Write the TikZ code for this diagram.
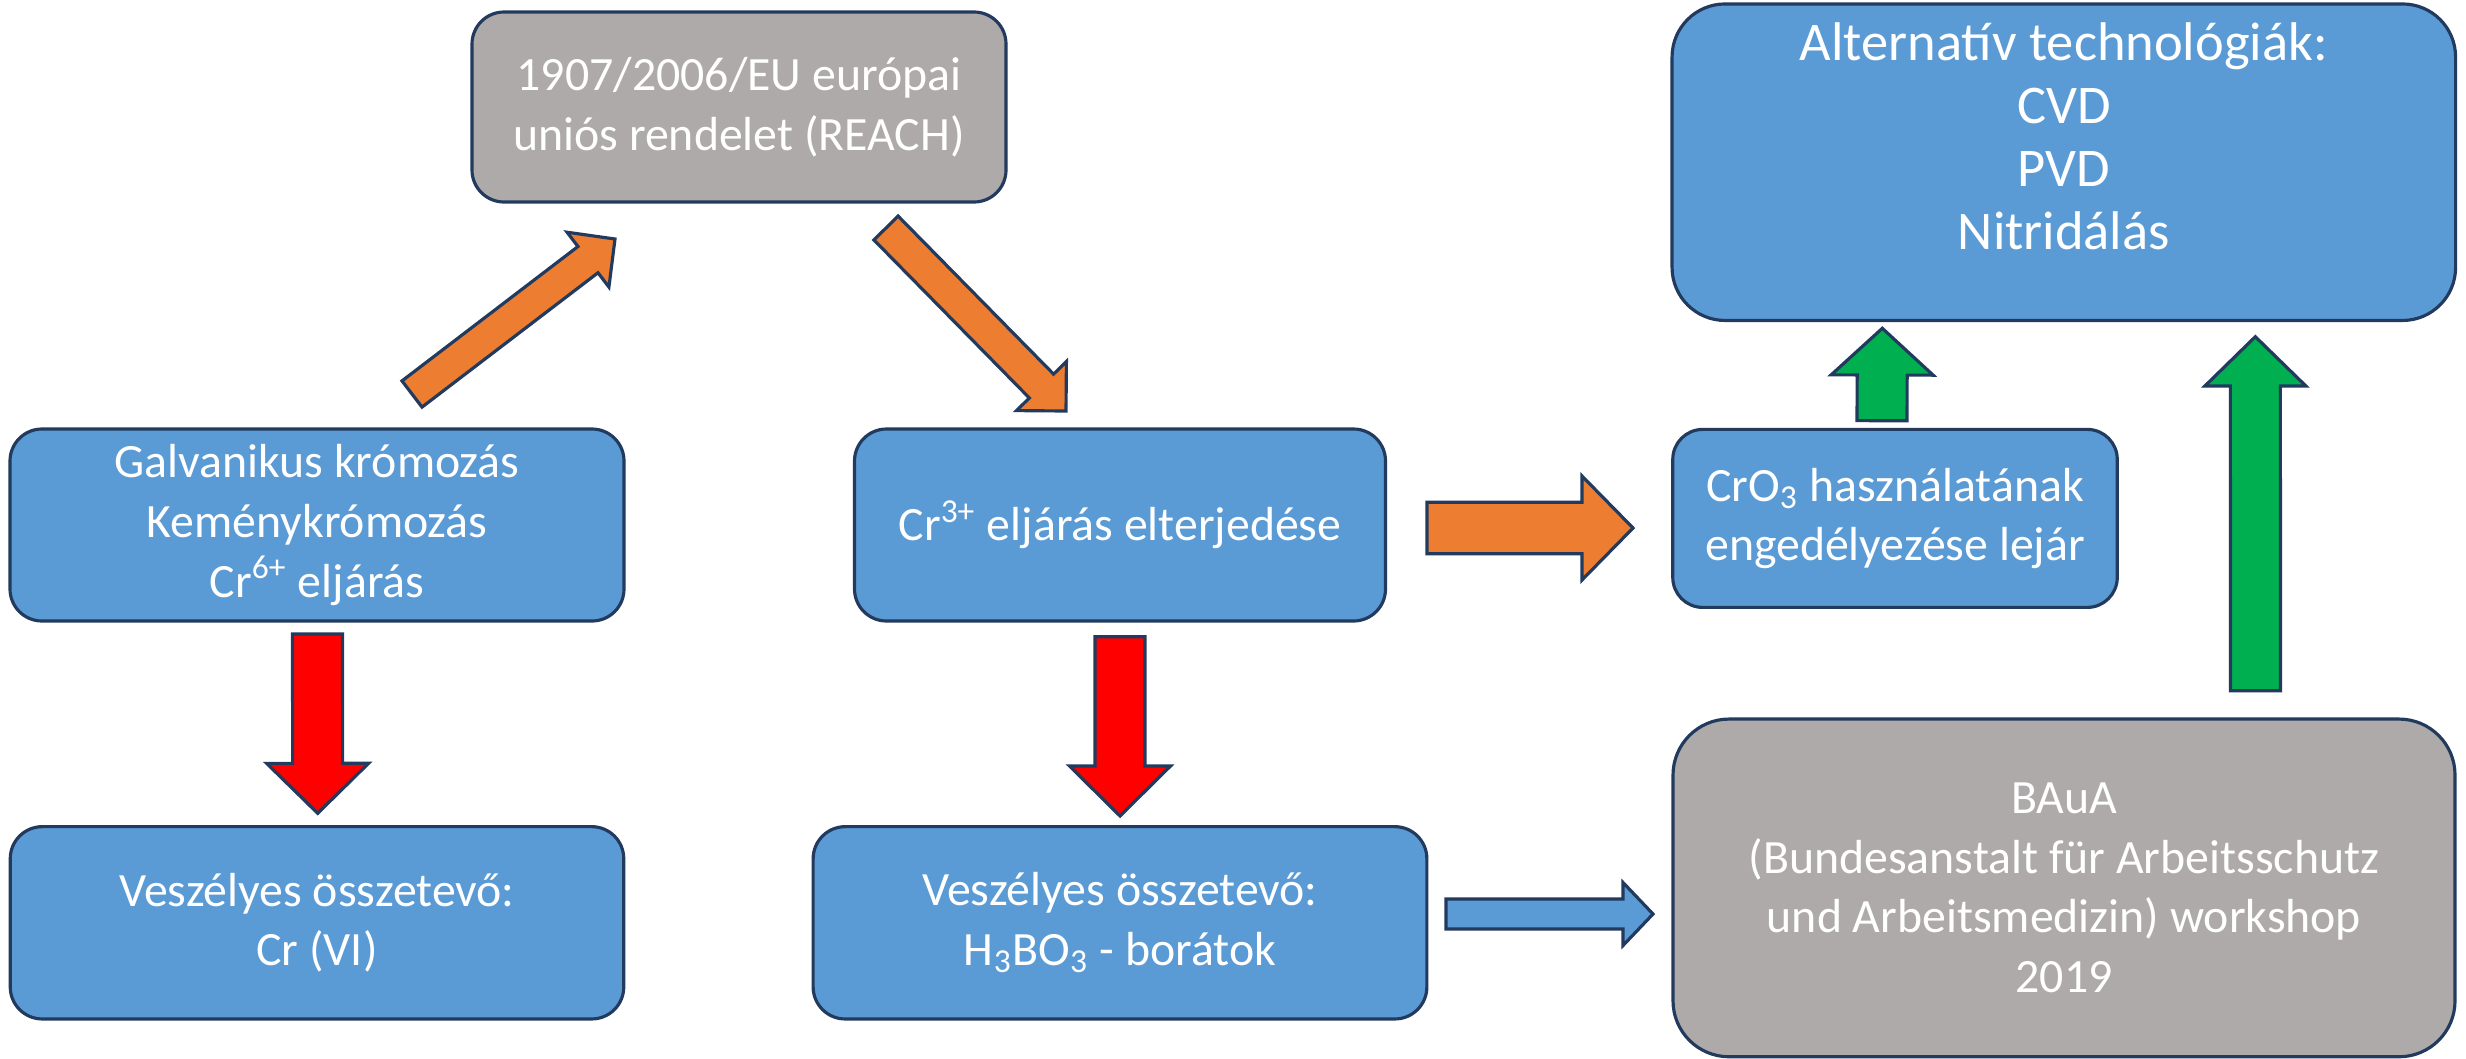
\documentclass[tikz,border=0pt]{standalone}
\usepackage{fontspec}
\setmainfont{Carlito}
\usetikzlibrary{calc}
\definecolor{boxblue}{HTML}{5B9BD5}
\definecolor{boxgrey}{HTML}{AEAAAA}
\definecolor{edgec}{HTML}{223A5E}
\definecolor{orng}{HTML}{ED7D31}
\definecolor{rdc}{HTML}{FF0000}
\definecolor{grn}{HTML}{00B050}
% #1 id, #2 tail, #3 tip, #4 shaft half, #5 head half, #6 head length, #7 colour
\newcommand\blockarrow[7]{%
  \coordinate (#1h) at ($(#3)!#6!(#2)$);
  \draw[arr,fill=#7] ($(#2)!#4!90:(#3)$) -- ($(#1h)!#4!-90:(#2)$) -- ($(#1h)!#5!-90:(#2)$)
    -- (#3) -- ($(#1h)!#5!90:(#2)$) -- ($(#1h)!#4!90:(#2)$) -- ($(#2)!#4!-90:(#3)$) -- cycle;
}
\begin{document}
\begin{tikzpicture}[
  box/.style={draw=edgec, line width=0.9pt, text=white, align=center, inner sep=0pt,
    font=\fontsize{13.6}{17.0}\selectfont},
  arr/.style={draw=edgec, line width=0.9pt, line join=miter}
]
\useasboundingbox (0,0) rectangle (24.66,10.58);

% boxes
\node[box, fill=boxblue, minimum width=6.14cm, minimum height=1.92cm, rounded corners=0.32cm] (galv) at (3.17,5.33)
  {Galvanikus krómozás\\Keménykrómozás\\Cr\textsuperscript{6+} eljárás};
\node[box, fill=boxgrey, minimum width=5.34cm, minimum height=1.90cm, rounded corners=0.32cm] (reach) at (7.39,9.51)
  {1907/2006/EU európai\\uniós rendelet (REACH)};
\node[box, fill=boxblue, minimum width=5.31cm, minimum height=1.92cm, rounded corners=0.32cm] (cr3) at (11.20,5.33)
  {Cr\textsuperscript{3+} eljárás elterjedése};
\node[box, fill=boxblue, minimum width=4.445cm, minimum height=1.78cm, rounded corners=0.30cm] (cro3) at (18.95,5.396)
  {CrO\textsubscript{3} használatának\\engedélyezése lejár};
\node[box, fill=boxblue, minimum width=7.835cm, minimum height=3.165cm, rounded corners=0.53cm,
  font=\fontsize{15.5}{17.9}\selectfont] (alt) at (20.638,8.958)
  {\raisebox{0.07cm}[0pt][0pt]{\begin{tabular}{@{}c@{}}Alternatív technológiák:\\CVD\\PVD\\Nitridálás\end{tabular}}};
\node[box, fill=boxblue, minimum width=6.135cm, minimum height=1.923cm, rounded corners=0.32cm] (crvi) at (3.17,1.352)
  {Veszélyes összetevő:\\Cr (VI)};
\node[box, fill=boxblue, minimum width=6.137cm, minimum height=1.923cm, rounded corners=0.32cm] (h3bo3) at (11.20,1.352)
  {Veszélyes összetevő:\\H\textsubscript{3}BO\textsubscript{3} - borátok};
\node[box, fill=boxgrey, minimum width=7.82cm, minimum height=3.377cm, rounded corners=0.56cm] (baua) at (20.64,1.701)
  {BAuA\\(Bundesanstalt für Arbeitsschutz\\und Arbeitsmedizin) workshop\\2019};

% arrow end points
\coordinate (a1s) at (4.12,6.64);   \coordinate (a1e) at (6.15,8.19);
\coordinate (a2s) at (8.86,8.30);   \coordinate (a2e) at (10.66,6.47);
\coordinate (a3s) at (14.27,5.30);  \coordinate (a3e) at (16.33,5.30);
\coordinate (r1s) at (3.175,4.24);  \coordinate (r1e) at (3.177,2.447);
\coordinate (r2s) at (11.20,4.213); \coordinate (r2e) at (11.20,2.42);
\coordinate (b1s) at (14.46,1.44);  \coordinate (b1e) at (16.53,1.44);
\coordinate (g1s) at (18.82,6.373); \coordinate (g1e) at (18.823,7.297);
\coordinate (g2s) at (22.555,3.673);\coordinate (g2e) at (22.553,7.213);

\blockarrow{a1}{a1s}{a1e}{0.165cm}{0.345cm}{0.34cm}{orng}
\blockarrow{a2}{a2s}{a2e}{0.17cm}{0.35cm}{0.35cm}{orng}
\blockarrow{a3}{a3s}{a3e}{0.257cm}{0.52cm}{0.51cm}{orng}
\blockarrow{r1}{r1s}{r1e}{0.25cm}{0.51cm}{0.50cm}{rdc}
\blockarrow{r2}{r2s}{r2e}{0.25cm}{0.505cm}{0.50cm}{rdc}
\blockarrow{b1}{b1s}{b1e}{0.15cm}{0.315cm}{0.30cm}{boxblue}
\blockarrow{g1}{g1s}{g1e}{0.25cm}{0.51cm}{0.467cm}{grn}
\blockarrow{g2}{g2s}{g2e}{0.25cm}{0.505cm}{0.493cm}{grn}
\end{tikzpicture}
\end{document}
